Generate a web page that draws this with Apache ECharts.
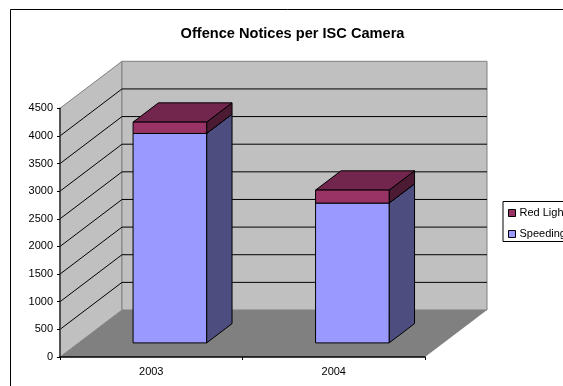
<!DOCTYPE html>
<html>
<head>
<meta charset="utf-8">
<style>html,body{margin:0;padding:0;background:#fff}#c{width:563px;height:386px}</style>
<script src="https://cdn.jsdelivr.net/npm/echarts@6/dist/echarts.min.js"></script>
</head>
<body>
<div id="c"></div>
<script>
var categories = ['2003', '2004'];
var speeding = [3790, 2530];
var redLight = [205, 235];
var gridTicks = [500, 1000, 1500, 2000, 2500, 3000, 3500, 4000];
var legendNames = ['Red Light', 'Speeding'];

var FONT = '"Liberation Sans", Arial, sans-serif';
// oblique projection of the 3D box
var DEPTH_X = 62, DEPTH_Y = -47;
var BAR_START = 0.3, BAR_DEPTH = 0.41, BAR_RATIO = 0.403;

var chart = echarts.init(document.getElementById('c'), null, {renderer: 'canvas'});

function poly(points, color, stroke, w) {
  return {type: 'polygon', shape: {points: points},
    style: {fill: color, stroke: stroke || null, lineWidth: w || 0}};
}

function wallsItem(params, api) {
  var r = params.coordSys;
  var x0 = r.x, x1 = r.x + r.width, t = r.y, b = r.y + r.height;
  var dx = DEPTH_X, dy = DEPTH_Y;
  return {type: 'group', children: [
    poly([[x0, b], [x0 + dx, b + dy], [x1 + dx, b + dy], [x1, b]], '#808080'),
    poly([[x0, t], [x0 + dx, t + dy], [x0 + dx, b + dy], [x0, b]], '#C0C0C0', '#808080', 1),
    poly([[x0 + dx, t + dy], [x1 + dx, t + dy], [x1 + dx, b + dy], [x0 + dx, b + dy]], '#C0C0C0', '#808080', 1)
  ]};
}

function gridItem(params, api) {
  var r = params.coordSys;
  var y = api.coord([0, api.value(0)])[1];
  return {type: 'polyline', shape: {points: [[r.x, y], [r.x + DEPTH_X, y + DEPTH_Y], [r.x + r.width + DEPTH_X, y + DEPTH_Y]]},
    style: {fill: null, stroke: '#000', lineWidth: 1}};
}

function barItem(front, side, top) {
  return function (params, api) {
    var c = api.value(0);
    var base = api.coord([c, api.value(1)]);
    var head = api.coord([c, api.value(2)]);
    var w = api.size([1, 0])[0] * BAR_RATIO;
    var ox = DEPTH_X * BAR_START, oy = DEPTH_Y * BAR_START;
    var dx = DEPTH_X * BAR_DEPTH, dy = DEPTH_Y * BAR_DEPTH;
    var l = base[0] + ox - w / 2, rr = base[0] + ox + w / 2;
    var yb = base[1] + oy, yt = head[1] + oy;
    return {type: 'group', children: [
      poly([[rr, yb], [rr + dx, yb + dy], [rr + dx, yt + dy], [rr, yt]], side, '#000', 1),
      poly([[l, yt], [l + dx, yt + dy], [rr + dx, yt + dy], [rr, yt]], top, '#000', 1),
      poly([[l, yb], [rr, yb], [rr, yt], [l, yt]], front, '#000', 1)
    ]};
  };
}

var speedingData = categories.map(function (c, i) { return [i, 0, speeding[i]]; });
var redData = categories.map(function (c, i) { return [i, speeding[i], speeding[i] + redLight[i]]; });

chart.setOption({
  animation: false,
  backgroundColor: '#fff',
  title: {
    text: 'Offence Notices per ISC Camera',
    left: 287.5, top: 21.5, textAlign: 'center',
    textStyle: {fontFamily: FONT, fontSize: 14.6, fontWeight: 'bold', color: '#000'}
  },
  grid: {left: 60, right: 138, top: 108.3, bottom: 29},
  xAxis: {
    type: 'category', data: categories, z: 10,
    axisLine: {lineStyle: {color: '#000', width: 1.5}},
    axisTick: {show: true, alignWithLabel: false, length: 3, lineStyle: {color: '#000'}},
    axisLabel: {fontFamily: FONT, fontSize: 11, color: '#000', margin: 9},
    splitLine: {show: false}
  },
  yAxis: {
    type: 'value', min: 0, max: 4500, interval: 500, z: 10,
    axisLine: {show: true, lineStyle: {color: '#333', width: 1.5}},
    axisTick: {show: true, length: 3, lineStyle: {color: '#000'}},
    axisLabel: {fontFamily: FONT, fontSize: 11, color: '#000', margin: 7,
      formatter: function (v) { return String(v); }},
    splitLine: {show: false}
  },
  legend: {
    orient: 'vertical', left: 503, top: 201.5,
    padding: [6, 6, 2, 5], itemGap: 10, itemWidth: 7, itemHeight: 7, icon: 'rect',
    borderColor: '#000', borderWidth: 1, backgroundColor: '#fff',
    selectedMode: false,
    textStyle: {fontFamily: FONT, fontSize: 11, color: '#000', padding: [0, 0, 0, -1]},
    data: [
      {name: legendNames[0], itemStyle: {color: '#993366', borderColor: '#000', borderWidth: 1}},
      {name: legendNames[1], itemStyle: {color: '#9999FF', borderColor: '#000', borderWidth: 1}}
    ]
  },
  graphic: [{
    type: 'rect', z: 100, silent: true,
    shape: {x: 10.5, y: 9.5, width: 700, height: 500},
    style: {fill: null, stroke: '#000', lineWidth: 1}
  }],
  series: [
    {type: 'custom', name: '_walls', z: 1, data: [[0]], renderItem: wallsItem, silent: true},
    {type: 'custom', name: '_grid', z: 2, data: gridTicks.map(function (t) { return [t]; }), renderItem: gridItem, silent: true},
    {type: 'custom', name: 'Speeding', z: 3, data: speedingData, encode: {x: 0, y: [1, 2]},
      itemStyle: {color: '#9999FF'}, renderItem: barItem('#9999FF', '#4D4D80', '#7373BF')},
    {type: 'custom', name: 'Red Light', z: 4, data: redData, encode: {x: 0, y: [1, 2]},
      itemStyle: {color: '#993366'}, renderItem: barItem('#993366', '#4D1A33', '#73264D')}
  ]
});
</script>
</body>
</html>
